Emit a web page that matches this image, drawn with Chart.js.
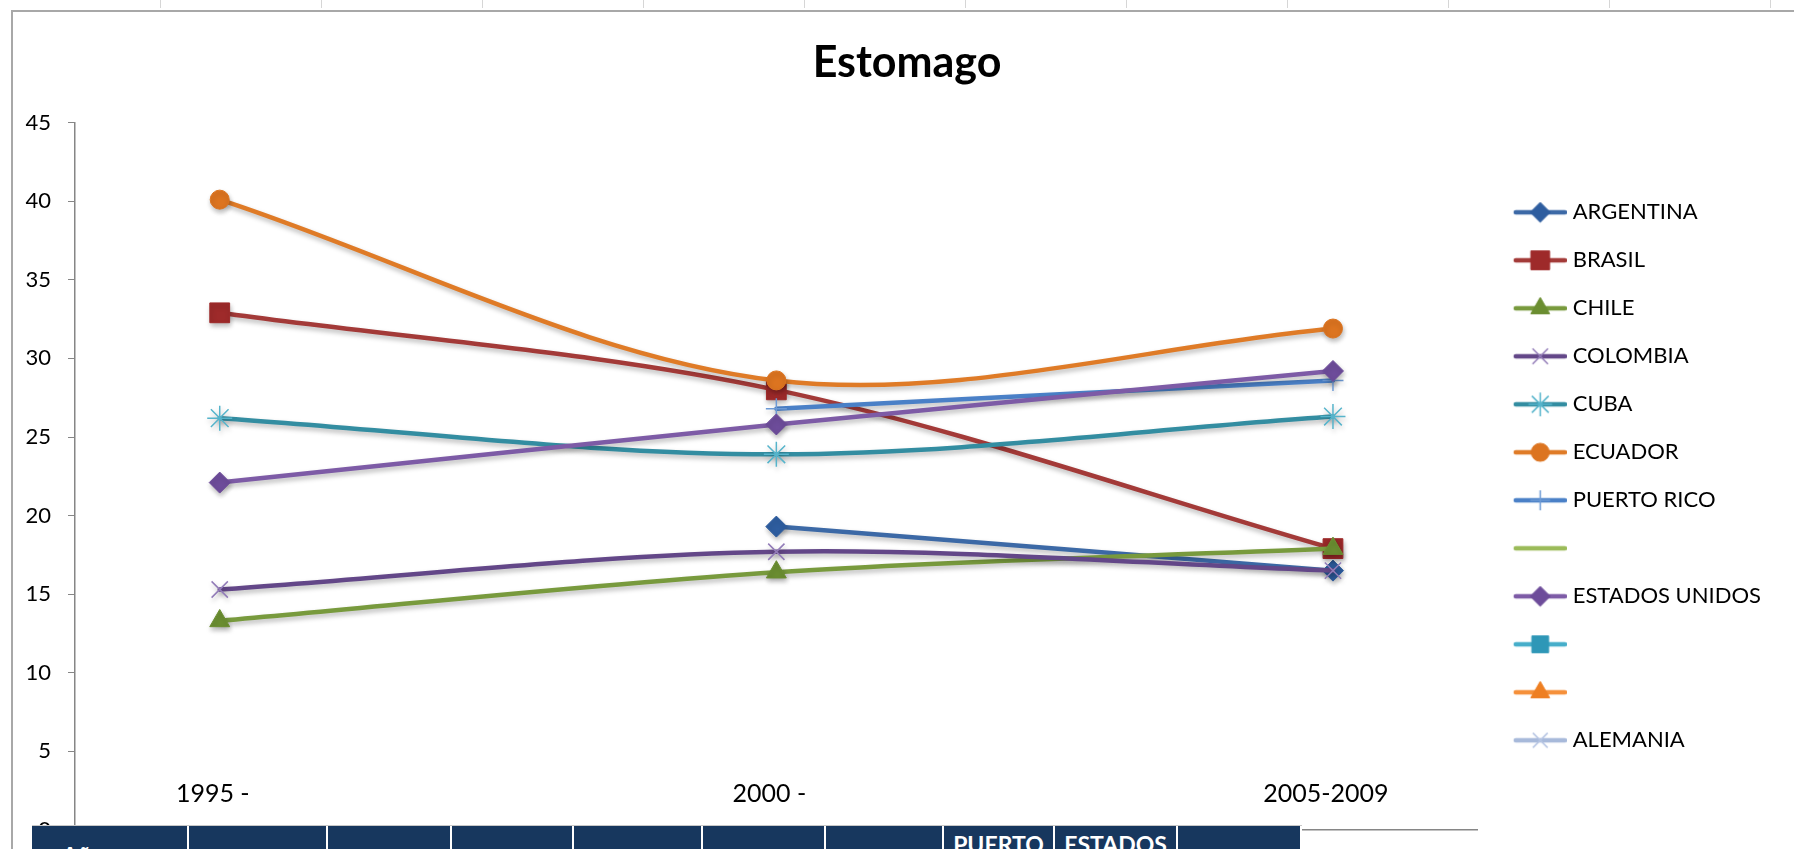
<!DOCTYPE html>
<html lang="es">
<head>
  <meta charset="UTF-8">
  <title>Estomago</title>
  <!-- Chart.js -->
  <script src="https://cdn.jsdelivr.net/npm/chart.js@4.4.1/dist/chart.umd.min.js"></script>
  <style>
    html, body { margin: 0; padding: 0; background: #fff; overflow: hidden; }
    body { width: 1794px; height: 849px; position: relative; font-family: Lato, sans-serif; }
    /* worksheet marks around the chart object */
    .colmarks { position: absolute; left: 0; top: 0; width: 1794px; height: 8px;
      background: repeating-linear-gradient(to right, transparent 0 160px, #d6d6d6 160px 161px); }
    .rowmarks { position: absolute; left: 0; top: 0; width: 6px; height: 849px;
      background: repeating-linear-gradient(to bottom, transparent 0 47px, #d6d6d6 47px 48px);
      background-size: 6px 38.8px; background-position: 0 8px; }
    .frame { position: absolute; left: 11px; top: 10px; right: -4px; bottom: -4px;
      border-left: 2px solid #a8a8a8; border-top: 2px solid #a8a8a8; }
    #wrap { position: absolute; left: 0; top: 0; width: 1794px; height: 849px; }
    /* data table sitting on top of the chart */
    #tabla { position: absolute; left: 32px; top: 825px; height: 70px; display: flex;
      border-top: 1px solid #c8c8c8; z-index: 2; }
    #tabla div { background: #17375e; color: #fff; font: bold 23px Lato, sans-serif; line-height: 26px;
      text-align: center; border-right: 2px solid #fff; box-sizing: border-box; padding-top: 5px; overflow: hidden; }
    #tabla div.anos { text-align: left; padding-left: 30px; padding-top: 16px; }
  </style>
</head>
<body>
  <div class="colmarks"></div>
  <div class="rowmarks"></div>
  <div class="frame"></div>
  <div id="wrap"><canvas id="grafico" width="1794" height="849"></canvas></div>

  <div id="tabla">
    <div class="anos" style="width:157px">Años</div>
    <div style="width:139px"></div>
    <div style="width:124px"></div>
    <div style="width:122px"></div>
    <div style="width:129px"></div>
    <div style="width:123px"></div>
    <div style="width:118px"></div>
    <div style="width:111px">PUERTO RICO</div>
    <div style="width:123px">ESTADOS UNIDOS</div>
    <div style="width:124px"></div>
  </div>

  <script>
    // periodos (eje x)
    const categorias = ['1995 -', '2000 -', '2005-2009'];

    // tasas por pais, una por periodo (null = sin dato)
    const argentina     = [null, 19.3, 16.5];
    const brasil        = [32.9, 28.0, 17.9];
    const chile         = [13.3, 16.4, 17.9];
    const colombia      = [15.3, 17.7, 16.5];
    const cuba          = [26.2, 23.9, 26.3];
    const ecuador       = [40.1, 28.6, 31.9];
    const puertoRico    = [null, 26.8, 28.6];
    const serie8        = [null, null, null];
    const estadosUnidos = [22.1, 25.8, 29.2];
    const serie10       = [null, null, null];
    const serie11       = [null, null, null];
    const alemania      = [null, null, null];

    // eje y
    const yMin = 0, yMax = 45, yPaso = 5;

    // series con su estilo (Excel 2007)
    const series = [
      { label: 'ARGENTINA',      data: argentina,     color: '#3c69a6', marca: '#2e5d9f', estilo: 'rectRot',  r: 10.5 },
      { label: 'BRASIL',         data: brasil,        color: '#a33a38', marca: '#9e2a2a', estilo: 'rect',     r: 14 },
      { label: 'CHILE',          data: chile,         color: '#789a3d', marca: '#6b8e31', estilo: 'triangle', r: 11.5 },
      { label: 'COLOMBIA',       data: colombia,      color: '#634788', marca: '#927cb8', estilo: 'crossRot', r: 11.5 },
      { label: 'CUBA',           data: cuba,          color: '#338da1', marca: '#56b4cb', estilo: 'star',     r: 12.5 },
      { label: 'ECUADOR',        data: ecuador,       color: '#df7b27', marca: '#dc7420', estilo: 'circle',   r: 9.5 },
      { label: 'PUERTO RICO',    data: puertoRico,    color: '#4a80c7', marca: '#6d9ad5', estilo: 'cross',    r: 10.5 },
      { label: '',               data: serie8,        color: '#9bbb59', marca: '#9bbb59', estilo: false,      r: 0 },
      { label: 'ESTADOS UNIDOS', data: estadosUnidos, color: '#7d5ba6', marca: '#6d4c9a', estilo: 'rectRot',  r: 10.5 },
      { label: '',               data: serie10,       color: '#46aeca', marca: '#2e97b7', estilo: 'rect',     r: 12.5 },
      { label: '',               data: serie11,       color: '#f5903a', marca: '#ee7f22', estilo: 'triangle', r: 11.5 },
      { label: 'ALEMANIA',       data: alemania,      color: '#a7b9da', marca: '#b6c5e3', estilo: 'crossRot', r: 11 }
    ];

    const lineales = ['cross', 'crossRot', 'star'];

    // iconos de la leyenda: linea con marcador al centro
    function icono(s) {
      const c = document.createElement('canvas');
      c.width = 68; c.height = 30;
      const ctx = c.getContext('2d');
      ctx.strokeStyle = s.color;
      ctx.lineWidth = 4.5;
      ctx.lineCap = 'round';
      ctx.beginPath(); ctx.moveTo(17, 15); ctx.lineTo(66, 15); ctx.stroke();
      if (s.estilo && Chart.helpers && Chart.helpers.drawPoint) {
        ctx.fillStyle = s.marca;
        ctx.strokeStyle = s.marca;
        ctx.lineWidth = lineales.includes(s.estilo) ? 1.5 : 1;
        ctx.lineCap = 'butt';
        Chart.helpers.drawPoint(ctx, { pointStyle: s.estilo, radius: s.r * 0.95, rotation: 0, borderWidth: ctx.lineWidth }, 41.5, 15);
      }
      return c;
    }

    // sombra suave bajo lineas y marcadores
    const sombra = {
      id: 'sombra',
      beforeDatasetsDraw(chart) {
        const c = chart.ctx;
        c.save();
        c.shadowColor = 'rgba(0,0,0,0.28)';
        c.shadowBlur = 5;
        c.shadowOffsetX = 1;
        c.shadowOffsetY = 3;
      },
      afterDatasetsDraw(chart) { chart.ctx.restore(); }
    };

    // el titulo de Excel va centrado en todo el objeto grafico (incluida la leyenda)
    const centrarTitulo = {
      id: 'centrarTitulo',
      afterLayout(chart) {
        const t = chart.titleBlock;
        if (t) { t.left += 11.5; t.right += 11.5; }
      }
    };

    function dibujar() {
      Chart.defaults.font.family = 'Lato';
      Chart.defaults.color = '#000';
      const iconos = series.map(icono);

      new Chart(document.getElementById('grafico'), {
        type: 'line',
        data: {
          datasets: series.map((s, i) => ({
            label: s.label,
            data: s.data.map((v, j) => ({ x: j, y: v })),
            borderColor: s.color,
            borderWidth: 4.5,
            borderCapStyle: 'round',
            tension: 0.33,
            pointStyle: s.estilo,
            pointRadius: s.r,
            pointHoverRadius: s.r,
            pointBackgroundColor: s.marca,
            pointBorderColor: s.marca,
            pointBorderWidth: lineales.includes(s.estilo) ? 1.5 : 1,
            order: series.length - i
          }))
        },
        options: {
          responsive: false,
          animation: false,
          layout: { padding: { left: 20, right: 23, top: 0, bottom: 0 } },
          plugins: {
            title: {
              display: true, text: 'Estomago', color: '#000',
              font: { family: 'Lato', size: 43, weight: 'bold' },
              padding: { top: 37, bottom: 34 }
            },
            legend: {
              position: 'right', align: 'center', fullSize: false,
              labels: {
                usePointStyle: true, pointStyleWidth: 58, padding: 26, color: '#000',
                font: { family: 'Lato', size: 22 },
                generateLabels: chart => chart.data.datasets.map((ds, i) => ({
                  text: ds.label, pointStyle: iconos[i], datasetIndex: i,
                  hidden: false, lineWidth: 0, fontColor: '#000'
                }))
              }
            },
            tooltip: { enabled: false }
          },
          scales: {
            x: {
              type: 'linear', min: -0.26, max: 2.26,
              afterBuildTicks: s => { s.ticks = categorias.map((_, i) => ({ value: i })); },
              afterFit: s => { s.height = 19; },
              ticks: {
                callback: v => categorias[v], mirror: true, padding: 21, labelOffset: -7,
                maxRotation: 0, autoSkip: false,
                color: '#000', font: { family: 'Lato', size: 25 }
              },
              grid: { display: false, drawTicks: false },
              border: { display: true, color: '#868686', width: 1.5 }
            },
            y: {
              min: yMin, max: yMax,
              afterFit: s => { s.width = 55; s.paddingBottom = 0; s.paddingTop = 0; },
              ticks: { stepSize: yPaso, padding: 17, color: '#000', font: { family: 'Lato', size: 22 } },
              grid: { drawOnChartArea: false, tickLength: 7, color: '#868686' },
              border: { color: '#868686', width: 1.5 }
            }
          }
        },
        plugins: [sombra, centrarTitulo]
      });
    }

    document.fonts.load('22px Lato').then(() => document.fonts.load('bold 43px Lato')).then(dibujar, dibujar);
  </script>
</body>
</html>
